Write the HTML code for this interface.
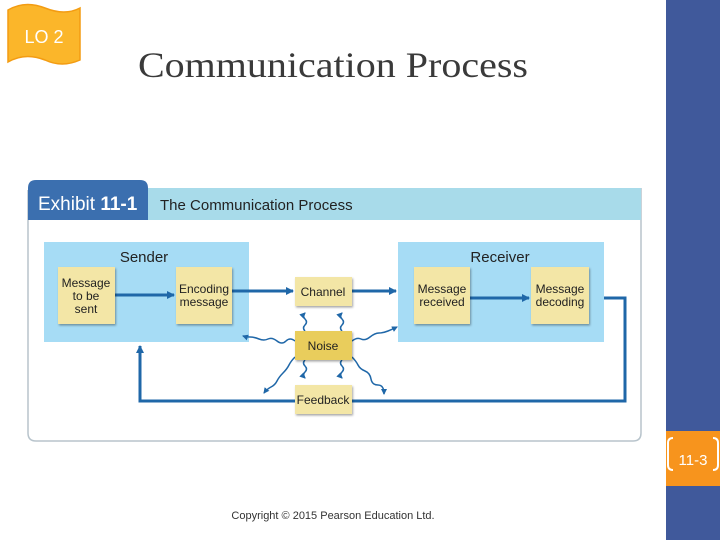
<!DOCTYPE html>
<html><head><style>
body{margin:0;width:720px;height:540px;background:#fff;position:relative;overflow:hidden;font-family:"Liberation Sans",sans-serif}
</style></head><body>
<svg width="720" height="540" style="position:absolute;left:0;top:0" font-family="Liberation Sans, sans-serif">
<defs>
<marker id="a" markerWidth="8" markerHeight="8" refX="7" refY="4" orient="auto" markerUnits="userSpaceOnUse"><path d="M0,0 L8,4 L0,8 z" fill="#1f67a8"/></marker>
<marker id="s" markerWidth="6" markerHeight="6" refX="5" refY="3" orient="auto" markerUnits="userSpaceOnUse"><path d="M0,0 L6,3 L0,6 z" fill="#1f67a8"/></marker>
<filter id="sh"><feDropShadow dx="1" dy="1.5" stdDeviation="1" flood-opacity="0.35"/></filter>
</defs>
<rect x="666" y="0" width="54" height="540" fill="#40599b"/>
<rect x="666" y="431" width="54" height="55" fill="#f7941d"/>
<text x="693" y="465" font-size="15" fill="#fff" text-anchor="middle" font-family="Liberation Sans, sans-serif">11-3</text>
<path d="M673,438 q-5,0 -5,5 v22 q0,5 5,5 M713,438 q5,0 5,5 v22 q0,5 -5,5" stroke="#fff" stroke-width="2" fill="none"/>
<path d="M8,10 Q25,0 45,8 Q65,16 80,8 L80,60 Q62,68 45,60 Q25,52 8,62 Z" fill="#fbb62a" stroke="#f39c12" stroke-width="1.5"/>
<text x="44" y="43" font-size="18" fill="#fff" text-anchor="middle">LO 2</text>
<text x="138" y="77" font-size="36" fill="#3a3a3a" font-family="Liberation Serif, serif" textLength="390" lengthAdjust="spacingAndGlyphs">Communication Process</text>
<path d="M28,190 V433 Q28,441 36,441 H633 Q641,441 641,433 V188" fill="#fff" stroke="#b8c4cc" stroke-width="1.5"/>
<rect x="148" y="188" width="493" height="32" fill="#a8dbea"/>
<path d="M28,220 V188 Q28,180 36,180 H140 Q148,180 148,188 V220 Z" fill="#3b6faf"/>
<text x="38" y="210" font-size="19" fill="#fff">Exhibit <tspan font-weight="bold">11-1</tspan></text>
<text x="160" y="210" font-size="15" fill="#222">The Communication Process</text>
<rect x="44" y="242" width="205" height="100" fill="#a6dcf5"/>
<rect x="398" y="242" width="206" height="100" fill="#a6dcf5"/>
<text x="144" y="262" font-size="15" fill="#222" text-anchor="middle">Sender</text>
<text x="500" y="262" font-size="15" fill="#222" text-anchor="middle">Receiver</text>
<g stroke="#1f67a8" stroke-width="3" fill="none">
<line x1="115" y1="295" x2="174" y2="295" marker-end="url(#a)"/>
<line x1="232" y1="291" x2="293" y2="291" marker-end="url(#a)"/>
<line x1="352" y1="291" x2="396" y2="291" marker-end="url(#a)"/>
<line x1="470" y1="298" x2="529" y2="298" marker-end="url(#a)"/>
<polyline points="604,298 625,298 625,401 140,401 140,346" marker-end="url(#a)"/>
</g>
<g stroke="#1f67a8" stroke-width="1.5" fill="none">
<path d="M295,341 q-5,-4 -9,0 t-9,0 t-9,-2 t-9,0 t-9,-2 t-7,-1" marker-end="url(#s)"/>
<path d="M352,341 q5,-4 9,-2 t9,-2 t9,-4 t9,-2 t9,-4" marker-end="url(#s)"/>
<path d="M295,357 q-4,4 -6,8 t-6,8 t-6,8 t-6,6 t-7,6" marker-end="url(#s)"/>
<path d="M352,357 q4,4 6,8 t7,6 t6,8 t7,6 t6,9" marker-end="url(#s)"/>
<path d="M305,331 q-3,-3 0,-6 t0,-6 t0,-6" marker-end="url(#s)"/>
<path d="M342,331 q-3,-3 0,-6 t0,-6 t0,-6" marker-end="url(#s)"/>
<path d="M305,360 q-3,3 0,6 t0,6 t0,6" marker-end="url(#s)"/>
<path d="M342,360 q-3,3 0,6 t0,6 t0,6" marker-end="url(#s)"/>
</g>
<g filter="url(#sh)">
<rect x="58" y="267" width="57" height="57" fill="#f3e6a6"/>
<rect x="176" y="267" width="56" height="57" fill="#f3e6a6"/>
<rect x="295" y="277" width="57" height="29" fill="#f3e6a6"/>
<rect x="295" y="331" width="57" height="29" fill="#e9cd5c"/>
<rect x="295" y="385" width="57" height="29" fill="#f3e6a6"/>
<rect x="414" y="267" width="56" height="57" fill="#f3e6a6"/>
<rect x="531" y="267" width="58" height="57" fill="#f3e6a6"/>
</g>
<g font-size="12" fill="#222" text-anchor="middle">
<text x="86" y="287">Message</text><text x="86" y="300">to be</text><text x="86" y="313">sent</text>
<text x="204" y="293">Encoding</text><text x="204" y="306">message</text>
<text x="323" y="296">Channel</text>
<text x="323" y="350">Noise</text>
<text x="323" y="404">Feedback</text>
<text x="442" y="293">Message</text><text x="442" y="306">received</text>
<text x="560" y="293">Message</text><text x="560" y="306">decoding</text>
</g>
<text x="333" y="519" font-size="11" fill="#333" text-anchor="middle">Copyright © 2015 Pearson Education Ltd.</text>
</svg>
</body></html>
